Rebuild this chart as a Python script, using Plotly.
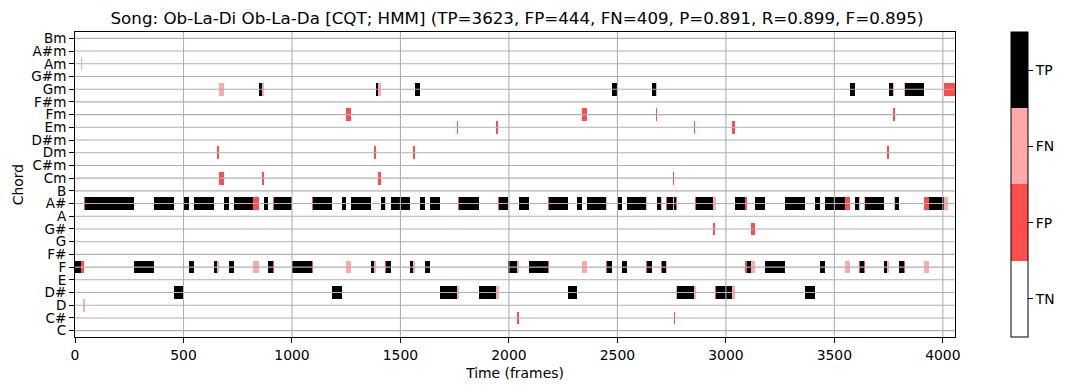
import numpy as np
import plotly.graph_objects as go

CHORDS = ["C", "C#", "D", "D#", "E", "F", "F#", "G", "G#", "A", "A#", "B",
          "Cm", "C#m", "Dm", "D#m", "Em", "Fm", "F#m", "Gm", "G#m", "Am", "A#m", "Bm"]
N_FRAMES = 4056
X_TICKS = [0, 500, 1000, 1500, 2000, 2500, 3000, 3500, 4000]
CLASS_LABELS = ["TN", "FP", "FN", "TP"]
CLASS_COLORS = ["#ffffff", "#ff4d4d", "#ffaaaa", "#000000"]
TITLE = "Song: Ob-La-Di Ob-La-Da [CQT; HMM] (TP=3623, FP=444, FN=409, P=0.891, R=0.899, F=0.895)"

# (chord, start_frame, end_frame)
TP_SEGMENTS = [
    ("F", 0, 26), ("F", 272, 366), ("F", 526, 549), ("F", 641, 655), ("F", 710, 733),
    ("F", 888, 912), ("F", 1001, 1091), ("F", 1366, 1380), ("F", 1435, 1458),
    ("F", 1545, 1558), ("F", 1613, 1636), ("F", 1997, 2036), ("F", 2091, 2178),
    ("F", 2454, 2477), ("F", 2522, 2545), ("F", 2637, 2660), ("F", 2706, 2724),
    ("F", 3095, 3118), ("F", 3182, 3274), ("F", 3435, 3458), ("F", 3619, 3637),
    ("F", 3729, 3743), ("F", 3798, 3820),
    ("A#", 44, 272), ("A#", 366, 458), ("A#", 502, 526), ("A#", 549, 641), ("A#", 687, 710),
    ("A#", 733, 820), ("A#", 870, 888), ("A#", 916, 1001), ("A#", 1096, 1183),
    ("A#", 1229, 1251), ("A#", 1274, 1366), ("A#", 1412, 1430), ("A#", 1458, 1545),
    ("A#", 1590, 1613), ("A#", 1636, 1682), ("A#", 1769, 1861), ("A#", 1953, 1997),
    ("A#", 2045, 2091), ("A#", 2183, 2270), ("A#", 2316, 2339), ("A#", 2362, 2449),
    ("A#", 2497, 2522), ("A#", 2545, 2633), ("A#", 2683, 2701), ("A#", 2729, 2757),
    ("A#", 2761, 2770), ("A#", 2862, 2940), ("A#", 3044, 3090), ("A#", 3136, 3182),
    ("A#", 3274, 3366), ("A#", 3412, 3435), ("A#", 3458, 3550), ("A#", 3596, 3614),
    ("A#", 3642, 3729), ("A#", 3779, 3798), ("A#", 3935, 4004),
    ("D#", 458, 502), ("D#", 1183, 1229), ("D#", 1682, 1761), ("D#", 1861, 1940),
    ("D#", 2270, 2316), ("D#", 2775, 2853), ("D#", 2954, 3030), ("D#", 3366, 3412),
    ("Gm", 848, 864), ("Gm", 1389, 1398), ("Gm", 1567, 1590), ("Gm", 2477, 2497),
    ("Gm", 2660, 2678), ("Gm", 3573, 3596), ("Gm", 3752, 3770), ("Gm", 3825, 3912),
]

FP_SEGMENTS = [
    ("Gm", 4004, 4056),
    ("Fm", 1251, 1274), ("Fm", 2339, 2362), ("Fm", 2678, 2683), ("Fm", 3770, 3779),
    ("Em", 1761, 1765), ("Em", 1940, 1949), ("Em", 2853, 2857), ("Em", 3030, 3040),
    ("Dm", 655, 664), ("Dm", 1380, 1389), ("Dm", 1558, 1567), ("Dm", 3743, 3752),
    ("Cm", 664, 687), ("Cm", 861, 870), ("Cm", 1398, 1412), ("Cm", 2757, 2761),
    ("A#", 40, 44), ("A#", 820, 848), ("A#", 912, 916), ("A#", 1091, 1096),
    ("A#", 1765, 1769), ("A#", 1949, 1953), ("A#", 2178, 2183), ("A#", 2724, 2729),
    ("A#", 2770, 2775), ("A#", 2857, 2862), ("A#", 3040, 3044), ("A#", 3090, 3095),
    ("A#", 3550, 3573), ("A#", 3912, 3935),
    ("G#", 2940, 2949), ("G#", 3118, 3136),
    ("F", 26, 40), ("F", 912, 916), ("F", 1091, 1096), ("F", 1430, 1435),
    ("F", 2178, 2183), ("F", 2449, 2454), ("F", 2633, 2637), ("F", 2701, 2706),
    ("F", 3090, 3095), ("F", 3614, 3619), ("F", 3637, 3642), ("F", 3820, 3825),
    ("D#", 2949, 2954),
    ("C#", 2036, 2045), ("C#", 2763, 2767),
]

FN_SEGMENTS = [
    ("Am", 28, 34),
    ("D", 36, 44),
    ("Gm", 664, 687), ("Gm", 864, 870), ("Gm", 1398, 1412), ("Gm", 2678, 2683),
    ("Gm", 3770, 3775), ("Gm", 3820, 3825),
    ("A#", 1430, 1435), ("A#", 2449, 2454), ("A#", 2633, 2637), ("A#", 2701, 2706),
    ("A#", 2757, 2761), ("A#", 2940, 2954), ("A#", 3614, 3619), ("A#", 3637, 3642),
    ("A#", 3775, 3779), ("A#", 4004, 4022),
    ("F", 655, 664), ("F", 820, 848), ("F", 1251, 1274), ("F", 1380, 1389),
    ("F", 1558, 1567), ("F", 2036, 2045), ("F", 2339, 2362), ("F", 2724, 2729),
    ("F", 3118, 3136), ("F", 3550, 3573), ("F", 3743, 3752), ("F", 3912, 3935),
    ("D#", 1761, 1769), ("D#", 1940, 1953), ("D#", 2770, 2775), ("D#", 2853, 2862),
    ("D#", 3030, 3044),
]

# ---- build the class matrix on non-uniform column edges ----
edges = {0, N_FRAMES}
for segs in (TP_SEGMENTS, FP_SEGMENTS, FN_SEGMENTS):
    for _, s, e in segs:
        edges.add(s)
        edges.add(e)
edges = np.array(sorted(edges))
z = np.zeros((len(CHORDS), len(edges) - 1), dtype=int)
for cls, segs in ((1, FP_SEGMENTS), (2, FN_SEGMENTS), (3, TP_SEGMENTS)):
    for chord, s, e in segs:
        r = CHORDS.index(chord)
        i0 = np.searchsorted(edges, s)
        i1 = np.searchsorted(edges, e)
        z[r, i0:i1] = cls

colorscale = []
for i, c in enumerate(CLASS_COLORS):
    colorscale.append([i / 4, c])
    colorscale.append([(i + 1) / 4, c])

FONT = "DejaVu Sans"
fig = go.Figure(go.Heatmap(
    z=z,
    x=edges,
    y=list(range(len(CHORDS))),
    colorscale=colorscale,
    zmin=-0.5, zmax=3.5,
    showscale=True,
    hoverinfo="skip",
    colorbar=dict(
        tickmode="array",
        tickvals=list(range(len(CLASS_LABELS))),
        ticktext=CLASS_LABELS,
        thickness=17,
        len=1, lenmode="fraction",
        y=0.5, yanchor="middle",
        x=1.064, xanchor="left",
        xpad=0, ypad=0,
        outlinewidth=1, outlinecolor="black",
        ticks="outside", ticklen=5, tickcolor="black",
        tickfont=dict(family=FONT, size=13.9, color="black"),
    ),
))

shapes = []
for xv in X_TICKS[1:]:
    shapes.append(dict(type="line", xref="x", yref="paper", x0=xv, x1=xv, y0=0, y1=1,
                       line=dict(color="#b0b0b0", width=1.1), layer="above"))
for yi in range(len(CHORDS)):
    shapes.append(dict(type="line", xref="paper", yref="y", x0=0, x1=1, y0=yi, y1=yi,
                       line=dict(color="#b0b0b0", width=1.1), layer="above"))

fig.update_layout(
    width=1068, height=390,
    margin=dict(l=75, r=109, t=32, b=53),
    paper_bgcolor="white", plot_bgcolor="white",
    font=dict(family=FONT, color="black"),
    title=dict(text=TITLE, x=(75 + 959) / 2 / 1068, xanchor="center",
               y=1 - 18 / 390, yanchor="middle",
               font=dict(family=FONT, size=16.7, color="black")),
    shapes=shapes,
    xaxis=dict(
        range=[0, N_FRAMES],
        tickmode="array", tickvals=X_TICKS, ticktext=[str(v) for v in X_TICKS],
        showgrid=False, zeroline=False,
        showline=True, linecolor="black", linewidth=1, mirror=True,
        ticks="outside", ticklen=5, tickcolor="black",
        tickfont=dict(family=FONT, size=13.9, color="black"),
        title=dict(text="Time (frames)", standoff=6,
                   font=dict(family=FONT, size=13.9, color="black")),
    ),
    yaxis=dict(
        range=[-0.5, len(CHORDS) - 0.5],
        tickmode="array", tickvals=list(range(len(CHORDS))), ticktext=CHORDS,
        showgrid=False, zeroline=False,
        showline=True, linecolor="black", linewidth=1, mirror=True,
        ticks="outside", ticklen=5, tickcolor="black",
        tickfont=dict(family=FONT, size=13.5, color="black"),
        title=dict(text="Chord", standoff=4,
                   font=dict(family=FONT, size=13.9, color="black")),
    ),
)

fig.write_html("out.html")
